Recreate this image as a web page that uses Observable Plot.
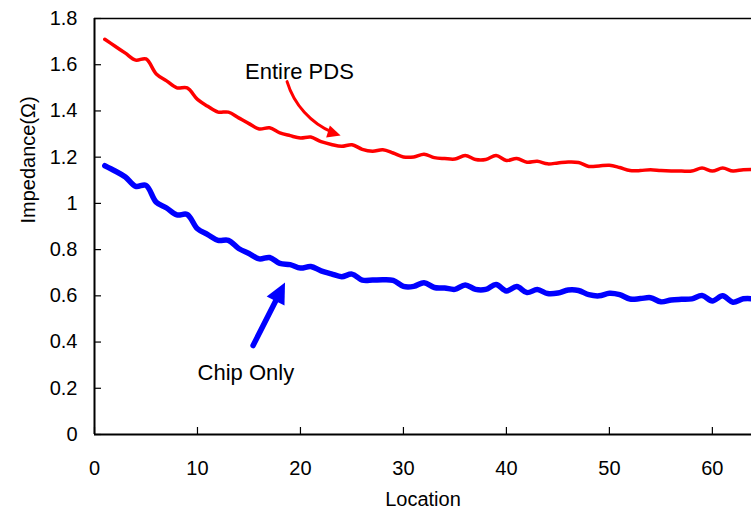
<!DOCTYPE html>
<html><head><meta charset="utf-8">
<script src="https://cdn.jsdelivr.net/npm/d3@7"></script>
<script src="https://cdn.jsdelivr.net/npm/@observablehq/plot@0.6"></script>
<style>body{margin:0;background:#fff}svg{display:block}</style>
</head><body><div id="chart"></div>
<script>
const locations = [1,2,3,4,5,6,7,8,9,10,11,12,13,14,15,16,17,18,19,20,21,22,23,24,25,26,27,28,29,30,31,32,
  33,34,35,36,37,38,39,40,41,42,43,44,45,46,47,48,49,50,51,52,53,54,55,56,57,58,59,60,61,62,63,64];
const entirePDS = [1.71,1.68,1.65,1.62,1.625,1.56,1.53,1.50,1.50,1.45,1.42,1.395,1.395,1.37,1.345,1.322,
  1.327,1.305,1.293,1.283,1.287,1.267,1.255,1.247,1.254,1.234,1.226,1.232,1.218,1.201,1.201,1.213,
  1.198,1.194,1.192,1.207,1.19,1.19,1.207,1.186,1.194,1.178,1.182,1.171,1.175,1.179,1.177,1.16,
  1.162,1.165,1.155,1.142,1.142,1.146,1.142,1.14,1.14,1.14,1.153,1.14,1.153,1.14,1.146,1.147];
const chipOnly = [1.163,1.14,1.114,1.074,1.078,1.005,0.98,0.95,0.952,0.89,0.865,0.84,0.84,0.805,0.783,0.76,
  0.766,0.74,0.735,0.72,0.727,0.708,0.695,0.683,0.694,0.668,0.668,0.67,0.667,0.641,0.641,0.657,
  0.636,0.634,0.628,0.647,0.628,0.628,0.649,0.621,0.64,0.614,0.627,0.61,0.612,0.625,0.623,0.605,
  0.6,0.611,0.605,0.586,0.588,0.592,0.574,0.582,0.585,0.587,0.601,0.578,0.6,0.572,0.587,0.587];
const xTicks = [0,10,20,30,40,50,60];
const yTicks = [0,0.2,0.4,0.6,0.8,1,1.2,1.4,1.6,1.8];
const xTitle = "Location";
const yTitle = "Impedance(Ω)";
// annotations (data coordinates)
const annoNames = ["Entire PDS","Chip Only"];
const annoColors = ["#FF0000","#0000FF"];
const annoTextX = [19.9, 14.7];
const annoTextY = [1.567, 0.268];
const arrowX1 = [18.7, 15.4];
const arrowY1 = [1.527, 0.385];
const arrowX2 = [23.9, 18.5];
const arrowY2 = [1.294, 0.658];
const arrowBend = [-28, 0];

const entireRows = locations.map((x,i)=>({x, y: entirePDS[i]}));
const chipRows = locations.map((x,i)=>({x, y: chipOnly[i]}));
const anno = annoNames.map((name,i)=>({name, color: annoColors[i], tx: annoTextX[i], ty: annoTextY[i],
  x1: arrowX1[i], y1: arrowY1[i], x2: arrowX2[i], y2: arrowY2[i], bend: arrowBend[i]}));

// filled triangle head, tip at origin pointing to +x
const headSymbol = {draw(ctx, size){ const r = Math.sqrt(size/Math.PI); const L = 2.2*r, W = 1.05*r;
  ctx.moveTo(0,0); ctx.lineTo(-L,-W); ctx.lineTo(-L,W); ctx.closePath(); }};

const font = "'Liberation Sans', Arial, sans-serif";
function build(angles){
  return Plot.plot({
    width: 751, height: 513, marginLeft: 94, marginRight: 0, marginTop: 18, marginBottom: 79,
    x: {domain: [0, 63.8]}, y: {domain: [0, 1.8]},
    style: {fontFamily: font, background: "white", color: "#000"},
    marks: [
      Plot.ruleY([1.8], {stroke: "#000", strokeWidth: 1.5}),
      Plot.tickX(xTicks, {x: d=>d, insetTop: 409, stroke: "#000", strokeWidth: 1.2}),
      Plot.tickY(yTicks, {y: d=>d, insetRight: 650, stroke: "#000", strokeWidth: 1.2}),
      Plot.axisX({ticks: xTicks, tickSize: 0, tickPadding: 26, fontSize: 20, label: null, tickFormat: d=>String(d)}),
      Plot.axisY({ticks: yTicks, tickSize: 0, tickPadding: 17, fontSize: 20, label: null, tickFormat: d=>String(d)}),
      Plot.text([xTitle], {frameAnchor: "bottom", dy: 71, fontSize: 20}),
      Plot.text([yTitle], {frameAnchor: "left", dx: -66, dy: -3, rotate: -90, fontSize: 20}),
      Plot.line(entireRows, {x: "x", y: "y", stroke: "#FF0000", strokeWidth: 3.5, curve: "catmull-rom", clip: true}),
      Plot.line(chipRows, {x: "x", y: "y", stroke: "#0000FF", strokeWidth: 5.5, curve: "catmull-rom", clip: true}),
      Plot.ruleX([0], {stroke: "#000", strokeWidth: 2}),
      Plot.ruleY([0], {stroke: "#000", strokeWidth: 2}),
      Plot.text(anno, {x: "tx", y: "ty", text: "name", fontSize: 22, fill: "#000"}),
      Plot.arrow([anno[0]], {x1: "x1", y1: "y1", x2: "x2", y2: "y2", bend: anno[0].bend, stroke: "color", strokeWidth: 3, headLength: 0, insetEnd: 8}),
      Plot.arrow([anno[1]], {x1: "x1", y1: "y1", x2: "x2", y2: "y2", stroke: "color", strokeWidth: 5.5, headLength: 0, insetEnd: 12}),
      Plot.dot([anno[0]], {x: "x2", y: "y2", symbol: headSymbol, r: 6, fill: "color", stroke: null, rotate: angles[0]}),
      Plot.dot([anno[1]], {x: "x2", y: "y2", symbol: headSymbol, r: 9.5, fill: "color", stroke: null, rotate: angles[1]})
    ]
  });
}
const probe = build([0,0]);
const sx = probe.scale("x"), sy = probe.scale("y");
const angles = anno.map(a => {
  const dx = sx.apply(a.x2) - sx.apply(a.x1), dy = sy.apply(a.y2) - sy.apply(a.y1);
  return Math.atan2(dy, dx) * 180 / Math.PI + a.bend;
});
document.getElementById("chart").append(build(angles));
</script></body></html>
